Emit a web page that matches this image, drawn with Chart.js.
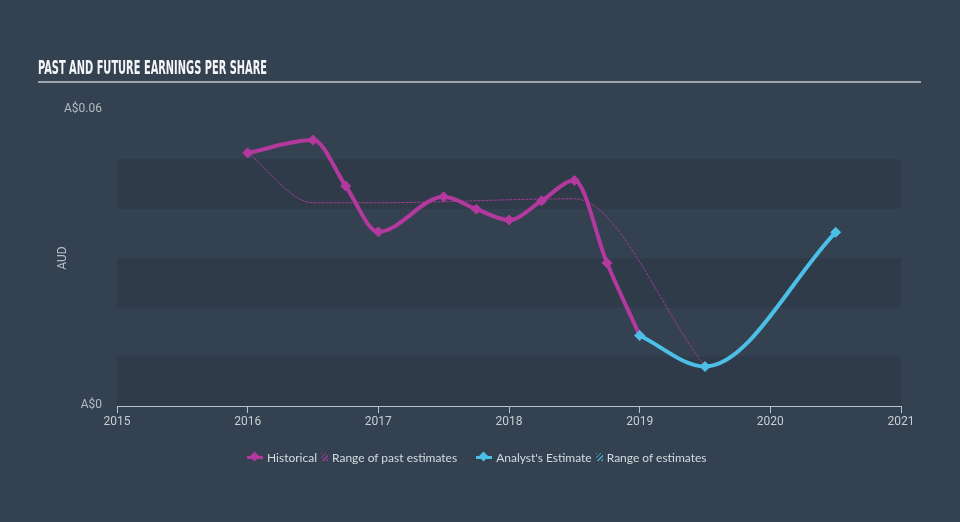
<!DOCTYPE html>
<html>
<head>
<meta charset="utf-8">
<script src="https://cdn.jsdelivr.net/npm/chart.js@4"></script>
<style>
    html, body { margin: 0; padding: 0; background: #344151; width: 960px; height: 522px; overflow: hidden; }
    #wrap { position: relative; width: 960px; height: 522px; }
    canvas { position: absolute; left: 0; top: 0; }
    #title {
        position: absolute; left: 38px; top: 58px; white-space: nowrap;
        font: bold 19px "Liberation Sans Narrow", "DejaVu Sans Condensed", sans-serif;
        line-height: 19px; color: #f4f5f7; transform-origin: left top;
    }
    #rule { position: absolute; left: 38px; top: 81px; width: 883px; height: 2px; background: #9ea5ad; }
    #legend {
        position: absolute; left: 247px; top: 449px; height: 16px; display: flex; align-items: center;
        font: 12px Lato, "Open Sans", sans-serif; color: #d6dbe0; white-space: nowrap;
    }
    .mark { position: relative; width: 16px; height: 12px; margin-right: 4px; }
    .mark::before { content: ''; position: absolute; left: 0; right: 0; top: 5px; height: 3px; background: var(--c); }
    .mark::after { content: ''; position: absolute; left: 4px; top: 2px; width: 7px; height: 7px; background: var(--c); transform: rotate(45deg); }
    .hatch { width: 7px; height: 8px; margin: 0 4px 0 4px;
        background: repeating-linear-gradient(135deg, var(--c) 0 1.2px, transparent 1.2px 3px); opacity: .8; }
</style>
</head>
<body>
<div id="wrap">
    <canvas id="chart" width="960" height="522"></canvas>
    <div id="title">PAST AND FUTURE EARNINGS PER SHARE</div>
    <div id="rule"></div>
    <div id="legend">
        <span class="mark" style="--c:#b4399e"></span><span>Historical</span>
        <span class="hatch" style="--c:#b4399e"></span><span>Range of past estimates</span>
        <span class="mark" style="--c:#4bbfe6; margin-left: 19px"></span><span>Analyst's Estimate</span>
        <span class="hatch" style="--c:#4bbfe6"></span><span>Range of estimates</span>
    </div>
</div>
<script>
// values (AUD per share)
const histYears = [2016, 2016.5, 2016.75, 2017, 2017.5, 2017.75, 2018, 2018.25, 2018.5, 2018.75, 2019]
const histEps = [0.0513, 0.0539, 0.0446, 0.0353, 0.0424, 0.0399, 0.0377, 0.0416, 0.0457, 0.0290, 0.0143]
const pastRangeYears = [2016, 2016.5, 2017, 2017.5, 2018, 2018.5, 2019.5]
const pastRangeEps = [0.0513, 0.0412, 0.0412, 0.0414, 0.0418, 0.0420, 0.0080]
const estYears = [2019, 2019.5, 2020.5]
const estEps = [0.0143, 0.0080, 0.0352]
const yearTicks = [2015, 2016, 2017, 2018, 2019, 2020, 2021]
const epsTicks = [0, 0.06]
const bandSteps = [0, 0.01, 0.02, 0.03, 0.04, 0.05, 0.06]

const HIST = '#b4399e'
const EST = '#4bbfe6'

const toPoints = (xs, ys) => xs.map((x, i) => ({ x, y: ys[i] }))

// title squeezed to the condensed width of the original
const title = document.getElementById('title')
title.style.transform = `scaleX(${229 / title.getBoundingClientRect().width})`

const bands = {
    id: 'bands',
    beforeDatasetsDraw(chart) {
        const { ctx, chartArea, scales: { y } } = chart
        ctx.save()
        ctx.fillStyle = '#2f3b49'
        for (let i = 0; i < bandSteps.length - 1; i += 2) {
            const top = y.getPixelForValue(bandSteps[i + 1])
            const bottom = y.getPixelForValue(bandSteps[i])
            ctx.fillRect(chartArea.left, top, chartArea.right - chartArea.left, bottom - top)
        }
        ctx.restore()
    }
}

const line = (label, data, color, extra) => ({
    label,
    data,
    borderColor: color,
    backgroundColor: color,
    borderWidth: 4,
    pointStyle: 'rectRot',
    pointRadius: 5,
    pointBorderWidth: 1,
    cubicInterpolationMode: 'monotone',
    ...extra,
})

new Chart(document.getElementById('chart'), {
    type: 'line',
    data: {
        datasets: [
            line("Analyst's Estimate", toPoints(estYears, estEps), EST, { order: 0 }),
            line('Historical', toPoints(histYears, histEps), HIST, { order: 1 }),
            line('Range of past estimates', toPoints(pastRangeYears, pastRangeEps), 'rgba(180,57,158,0.85)', {
                order: 2, borderWidth: 1, pointRadius: 0, borderDash: [3, 1],
            }),
        ],
    },
    options: {
        responsive: false,
        animation: false,
        clip: false,
        layout: { padding: { left: 0, right: 59, top: 110, bottom: 86 } },
        plugins: { legend: { display: false }, tooltip: { enabled: false } },
        scales: {
            x: {
                type: 'linear',
                min: 2015,
                max: 2021,
                afterFit: scale => { scale.height = 30 },
                afterBuildTicks: scale => { scale.ticks = yearTicks.map(value => ({ value })) },
                border: { display: true, color: '#b9c3ce', width: 1 },
                grid: { display: true, drawOnChartArea: false, color: '#b9c3ce', tickLength: 7 },
                ticks: { color: '#c9ced4', font: { family: 'Roboto', size: 12 }, padding: 2, callback: v => String(v) },
            },
            y: {
                min: 0,
                max: 0.06,
                afterFit: scale => { scale.width = 117 },
                afterBuildTicks: scale => { scale.ticks = epsTicks.map(value => ({ value })) },
                border: { display: false },
                grid: { display: false, drawTicks: false },
                ticks: {
                    color: '#b5bcc4', font: { family: 'Roboto', size: 12 }, padding: 15, labelOffset: -1,
                    callback: v => v === 0 ? 'A$0' : 'A$' + v.toFixed(2),
                },
                title: {
                    display: true, text: 'AUD', color: '#b5bcc4',
                    font: { family: 'Roboto', size: 12 }, padding: { top: 56, bottom: 0 },
                },
            },
        },
    },
    plugins: [bands],
})
</script>
</body>
</html>
